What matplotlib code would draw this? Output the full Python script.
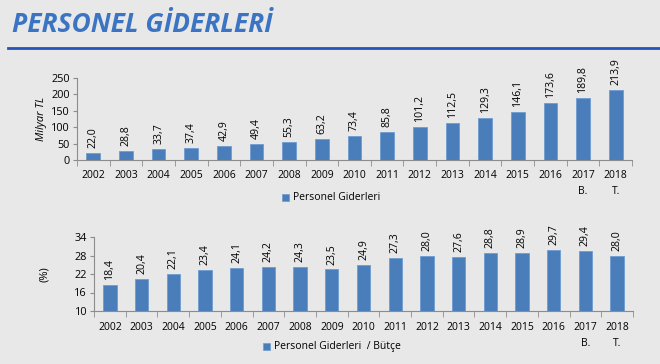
import matplotlib
matplotlib.use("Agg")
import matplotlib.pyplot as plt
from matplotlib.patches import Rectangle
from matplotlib.lines import Line2D

years = ["2002", "2003", "2004", "2005", "2006", "2007", "2008", "2009", "2010",
         "2011", "2012", "2013", "2014", "2015", "2016", "2017\nB.", "2018\nT."]
spending = [22.0, 28.8, 33.7, 37.4, 42.9, 49.4, 55.3, 63.2, 73.4,
            85.8, 101.2, 112.5, 129.3, 146.1, 173.6, 189.8, 213.9]
share = [18.4, 20.4, 22.1, 23.4, 24.1, 24.2, 24.3, 23.5, 24.9,
         27.3, 28.0, 27.6, 28.8, 28.9, 29.7, 29.4, 28.0]

BG = "#e8e8e8"
BAR = "#4a7ebb"
EDGE = "#6f9bd1"
AX = "#8c8c8c"
FONT = "Open Sans"

plt.rcParams["font.family"] = [FONT, "DejaVu Sans"]
W, H = 660, 364
fig = plt.figure(figsize=(W / 100, H / 100), dpi=100, facecolor=BG)

def px(l, t, r, b):
    return [l / W, 1 - b / H, (r - l) / W, (b - t) / H]

# Title and rule
fig.text(12 / W, 1 - 25 / H, "PERSONEL GİDERLERİ", fontsize=19, fontweight="bold",
         fontstyle="italic", color="#3b74c2", va="center", ha="left")
fig.add_artist(Line2D([8 / W, 1.0], [1 - 48 / H, 1 - 48 / H], color="#2453b8", lw=2))

def bar_panel(rect, values, ylim, yticks, ylabel, italic, legend_label, legend_xy, xpad):
    ax = fig.add_axes(rect)
    ax.set_facecolor(BG)
    x = list(range(len(values)))
    base = ylim[0]
    ax.bar(x, [v - base for v in values], width=0.42, bottom=base, color=BAR,
           edgecolor=EDGE, linewidth=0.6)
    ax.set_xlim(-0.5, len(values) - 0.5)
    ax.set_ylim(*ylim)
    ax.set_yticks(yticks)
    ax.set_xticks(x)
    ax.set_xticklabels(years, fontsize=7.5, linespacing=1.6)
    ax.tick_params(axis="x", length=0, pad=xpad)
    ax.tick_params(axis="y", labelsize=7.8, length=3, color=AX, pad=2)
    ax.set_xticks([i - 0.5 for i in range(len(values) + 1)], minor=True)
    ax.tick_params(axis="x", which="minor", length=4, color=AX)
    for s in ["top", "right"]:
        ax.spines[s].set_visible(False)
    for s in ["left", "bottom"]:
        ax.spines[s].set_color(AX)
        ax.spines[s].set_linewidth(0.8)
    for i, v in enumerate(values):
        ax.annotate(f"{v:.1f}".replace(".", ","), (i, v), xytext=(0, 3.5),
                    textcoords="offset points", rotation=90, ha="center", va="bottom",
                    fontsize=7.6, annotation_clip=False)
    ax.set_ylabel(ylabel, fontsize=8, fontstyle="italic" if italic else "normal")
    lx, ly = legend_xy
    fig.add_artist(Rectangle((lx / W, 1 - (ly + 3.5) / H), 7 / W, 7 / H,
                             facecolor=BAR, edgecolor=EDGE, lw=0.5))
    fig.text((lx + 11) / W, 1 - ly / H, legend_label, fontsize=7.5, va="center", ha="left")
    return ax

ax1 = bar_panel(px(77, 78, 632, 160), spending, (0, 250), [0, 50, 100, 150, 200, 250],
                "Milyar TL", True, "Personel Giderleri", (282, 197), 7)
ax2 = bar_panel(px(94, 237, 633, 311), share, (10, 34), [10, 16, 22, 28, 34],
                "(%)", False, "Personel Giderleri  / Bütçe", (263, 346), 8)
ax1.yaxis.set_label_coords(-(77 - 47) / 555, 0.5)
ax2.yaxis.set_label_coords(-(94 - 50) / 539, 0.5)

fig.savefig("out.png", dpi=100, facecolor=BG)
